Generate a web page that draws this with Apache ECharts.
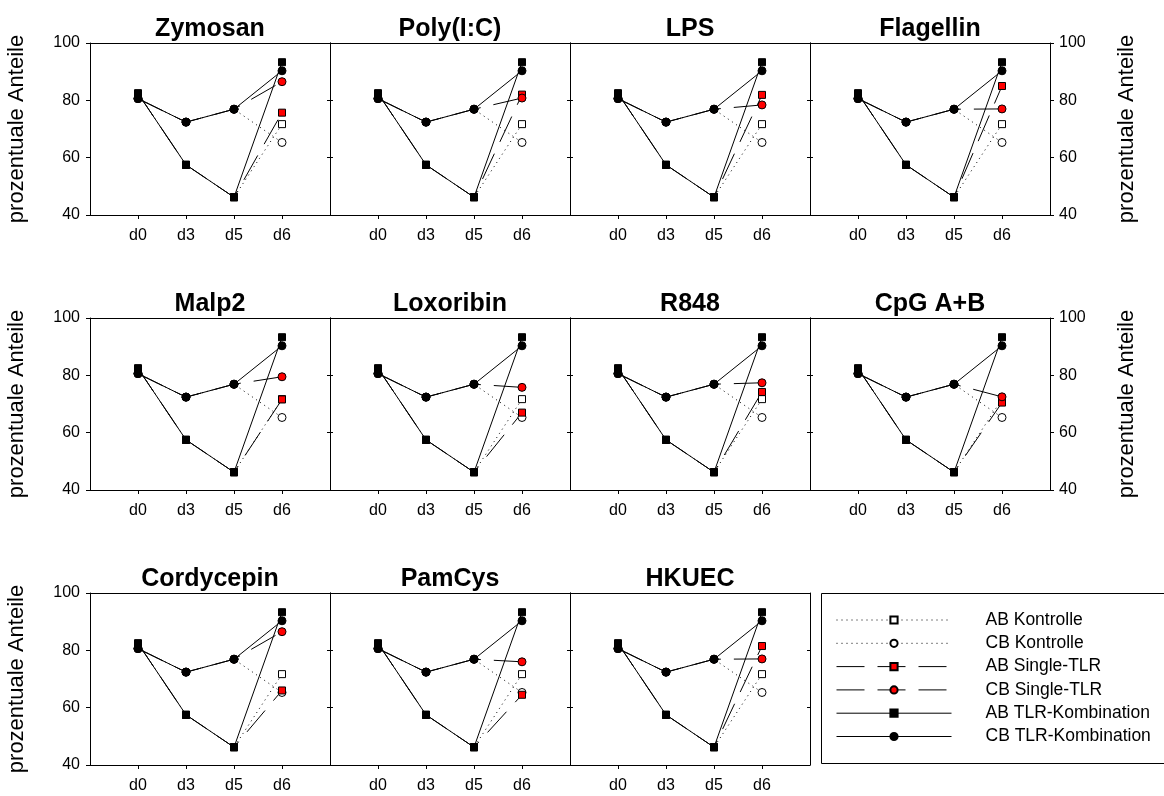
<!DOCTYPE html>
<html>
<head>
<meta charset="utf-8">
<script src="https://cdn.jsdelivr.net/npm/echarts@6/dist/echarts.min.js"></script>
<style>
  html, body { margin: 0; padding: 0; background: #ffffff; }
  #chart { width: 1164px; height: 796px; }
</style>
</head>
<body>
<div id="chart"></div>
<script>
// Stimuli, one small panel each
const stimuli = ['Zymosan', 'Poly(I:C)', 'LPS', 'Flagellin',
                 'Malp2', 'Loxoribin', 'R848', 'CpG A+B',
                 'Cordycepin', 'PamCys', 'HKUEC'];
const days = ['d0', 'd3', 'd5', 'd6'];
const yTicks = [40, 60, 80, 100];

// Shared time course d0, d3, d5 (identical in all panels)
const abCourse = [82.4, 57.5, 46.2];
const cbCourse = [80.6, 72.4, 76.9];

// d6 values that are the same in every panel
const abKontrolleD6 = 71.7;
const cbKontrolleD6 = 65.3;
const abKombinationD6 = 93.3;
const cbKombinationD6 = 90.3;

// d6 values after single-TLR stimulation, one per stimulus
const abSingleD6 = [75.7, 82.0, 81.9, 85.0, 71.6, 67.0, 74.2, 70.5, 66.0, 64.5, 81.5];
const cbSingleD6 = [86.5, 80.8, 78.4, 77.0, 79.5, 75.8, 77.4, 72.5, 86.5, 76.0, 77.0];

const seriesNames = ['AB Kontrolle', 'CB Kontrolle', 'AB Single-TLR',
                     'CB Single-TLR', 'AB TLR-Kombination', 'CB TLR-Kombination'];

const FONT = 'Liberation Sans';
const BLACK = '#000000';
const DOTTED = [1, 4];
const DASHED = [28, 13];

// Panel geometry
const PANEL_W = 240, PANEL_H = 172;
const LEFT0 = 90;
const ROW_TOPS = [43, 318, 593];
const COLS = 4;

// x categories padded with blank slots on both sides
const xCats = [''].concat(days, [' ']);

function pairs(values) {
  return days.map((d, k) => [d, values[k]]);
}

function styleFor(name) {
  const isAB = name.startsWith('AB');
  const sym = isAB ? 'rect' : 'circle';
  const size = isAB ? 7 : 8;
  let fill, lineType;
  if (name.includes('Kontrolle')) { fill = '#ffffff'; lineType = DOTTED; }
  else if (name.includes('Single')) { fill = '#ff0000'; lineType = DASHED; }
  else { fill = BLACK; lineType = 'solid'; }
  return {
    symbol: sym,
    symbolSize: size,
    itemStyle: { color: fill, borderColor: BLACK, borderWidth: 1, opacity: 1 },
    lineStyle: { color: BLACK, width: 1, type: lineType }
  };
}

const grids = [], xAxes = [], yAxes = [], titles = [], series = [];

stimuli.forEach((stim, i) => {
  const r = Math.floor(i / COLS), c = i % COLS;
  const left = LEFT0 + c * PANEL_W;
  const top = ROW_TOPS[r];
  grids.push({ left: left, top: top, width: PANEL_W, height: PANEL_H, containLabel: false });

  titles.push({
    text: stim,
    left: left + PANEL_W / 2,
    top: top - 26,
    textAlign: 'center',
    padding: 0,
    textStyle: { fontFamily: FONT, fontSize: 25, fontWeight: 'bold', color: BLACK }
  });

  const axisLine = { show: true, onZero: false, lineStyle: { color: BLACK, width: 1 } };

  // bottom axis with day labels
  xAxes.push({
    gridIndex: i, type: 'category', data: xCats, boundaryGap: false, position: 'bottom',
    axisLine: axisLine,
    axisTick: { show: true, length: 4, lineStyle: { color: BLACK },
                interval: (idx) => idx > 0 && idx < xCats.length - 1 },
    axisLabel: { interval: 0, margin: 13, fontFamily: FONT, fontSize: 16, color: BLACK },
    splitLine: { show: false }
  });
  // top frame line
  xAxes.push({
    gridIndex: i, type: 'category', data: xCats, boundaryGap: false, position: 'top',
    axisLine: axisLine, axisTick: { show: false }, axisLabel: { show: false },
    splitLine: { show: false }
  });

  const outerLeft = c === 0;
  const outerRight = c === COLS - 1;
  const nameStyle = { fontFamily: FONT, fontSize: 22, color: BLACK };

  yAxes.push({
    gridIndex: i, type: 'value', position: 'left', min: yTicks[0], max: yTicks[yTicks.length - 1],
    interval: yTicks[1] - yTicks[0],
    axisLine: axisLine,
    axisTick: { show: true, inside: !outerLeft, length: outerLeft ? 4 : 3, lineStyle: { color: BLACK } },
    axisLabel: { show: outerLeft, margin: 10, fontFamily: FONT, fontSize: 16, color: BLACK },
    splitLine: { show: false },
    name: outerLeft ? 'prozentuale Anteile' : '',
    nameLocation: 'middle', nameRotate: 90, nameGap: 62, nameTextStyle: nameStyle
  });
  yAxes.push({
    gridIndex: i, type: 'value', position: 'right', min: yTicks[0], max: yTicks[yTicks.length - 1],
    interval: yTicks[1] - yTicks[0],
    axisLine: axisLine,
    axisTick: { show: true, inside: !outerRight, length: outerRight ? 4 : 3, lineStyle: { color: BLACK } },
    axisLabel: { show: outerRight, margin: 9, fontFamily: FONT, fontSize: 16, color: BLACK },
    splitLine: { show: false },
    name: outerRight ? 'prozentuale Anteile' : '',
    nameLocation: 'middle', nameRotate: 90, nameGap: 66, nameTextStyle: nameStyle
  });

  const values = {
    'AB Kontrolle': abCourse.concat([abKontrolleD6]),
    'CB Kontrolle': cbCourse.concat([cbKontrolleD6]),
    'AB Single-TLR': abCourse.concat([abSingleD6[i]]),
    'CB Single-TLR': cbCourse.concat([cbSingleD6[i]]),
    'AB TLR-Kombination': abCourse.concat([abKombinationD6]),
    'CB TLR-Kombination': cbCourse.concat([cbKombinationD6])
  };

  seriesNames.forEach((name) => {
    series.push(Object.assign({
      name: name,
      type: 'line',
      xAxisIndex: 2 * i,
      yAxisIndex: 2 * i,
      data: pairs(values[name]),
      showAllSymbol: true,
      animation: false,
      emphasis: { disabled: true }
    }, styleFor(name)));
  });
});

const chart = echarts.init(document.getElementById('chart'), null, { renderer: 'canvas' });
chart.setOption({
  animation: false,
  backgroundColor: '#ffffff',
  title: titles,
  grid: grids,
  xAxis: xAxes,
  yAxis: yAxes,
  series: series,
  legend: {
    data: seriesNames,
    orient: 'vertical',
    left: 836,
    top: 611,
    padding: 0,
    itemWidth: 115,
    itemHeight: 9,
    itemGap: 5.3,
    selectedMode: false,
    lineStyle: { width: 1 },
    formatter: (name) => '{g|}' + name,
    textStyle: {
      fontFamily: FONT, fontSize: 17.5, color: BLACK, lineHeight: 18,
      rich: { g: { width: 29, lineHeight: 18 } }
    }
  },
  graphic: [{
    type: 'rect',
    shape: { x: 821.5, y: 593.5, width: 400, height: 170 },
    style: { fill: 'none', stroke: BLACK, lineWidth: 1 },
    silent: true
  }]
});
</script>
</body>
</html>
